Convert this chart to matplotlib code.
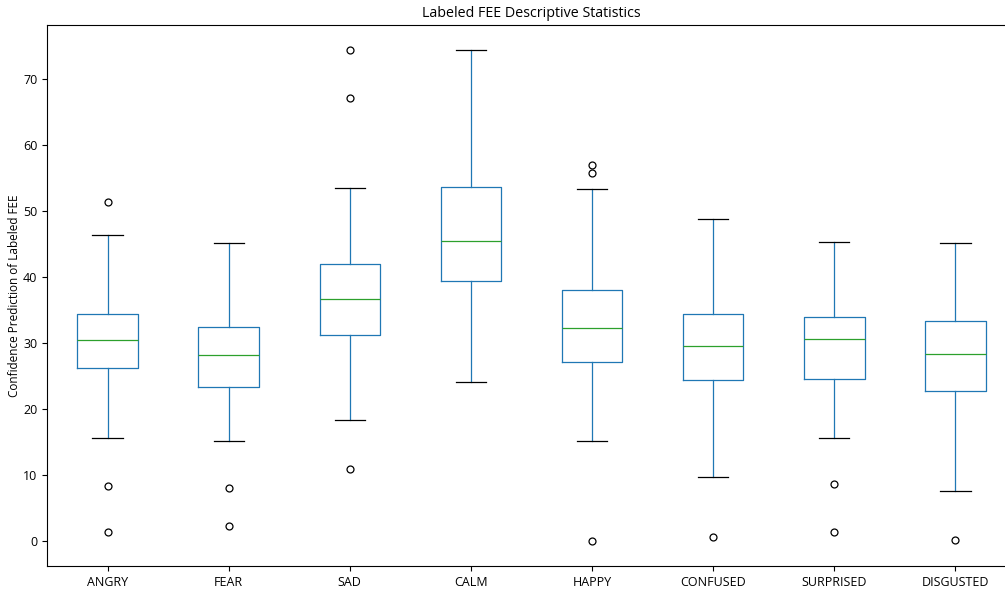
import matplotlib
matplotlib.use("Agg")
import matplotlib.pyplot as plt

plt.rcParams["font.family"] = ["Open Sans", "DejaVu Sans"]

# values
labels = ["ANGRY", "FEAR", "SAD", "CALM", "HAPPY", "CONFUSED", "SURPRISED", "DISGUSTED"]
whislo = [15.7, 15.2, 18.3, 24.1, 15.2, 9.7, 15.7, 7.7]
q1 = [26.2, 23.4, 31.2, 39.4, 27.2, 24.4, 24.6, 22.8]
med = [30.5, 28.2, 36.7, 45.4, 32.3, 29.6, 30.6, 28.4]
q3 = [34.4, 32.4, 41.9, 53.6, 38.0, 34.4, 33.9, 33.3]
whishi = [46.3, 45.1, 53.4, 74.4, 53.3, 48.7, 45.3, 45.1]
fliers = [
    [51.4, 8.4, 1.4],
    [8.1, 2.3],
    [74.4, 67.1, 10.9],
    [],
    [57.0, 55.7, 0.0],
    [0.6],
    [8.7, 1.4],
    [0.15],
]

stats = []
for i, name in enumerate(labels):
    stats.append(dict(label=name, whislo=whislo[i], q1=q1[i], med=med[i],
                      q3=q3[i], whishi=whishi[i], fliers=fliers[i]))

fig = plt.figure(figsize=(10.05, 5.9), dpi=100)
ax = fig.add_axes([47 / 1005, 24 / 590, 969 / 1005, 541 / 590])

lw = 0.9
ax.bxp(stats, widths=0.5,
       boxprops=dict(color="C0", linewidth=lw),
       whiskerprops=dict(color="C0", linewidth=lw),
       medianprops=dict(color="C2", linewidth=lw),
       capprops=dict(color="k", linewidth=lw),
       flierprops=dict(marker="o", markersize=5, markeredgewidth=0.9,
                       markerfacecolor="none", markeredgecolor="k"))

ax.tick_params(labelsize=9)
ax.set_title("Labeled FEE Descriptive Statistics", fontsize=10.3)
ax.set_ylabel("Confidence Prediction of Labeled FEE", fontsize=8.5, labelpad=1.5)

fig.savefig("out.png", dpi=100)
